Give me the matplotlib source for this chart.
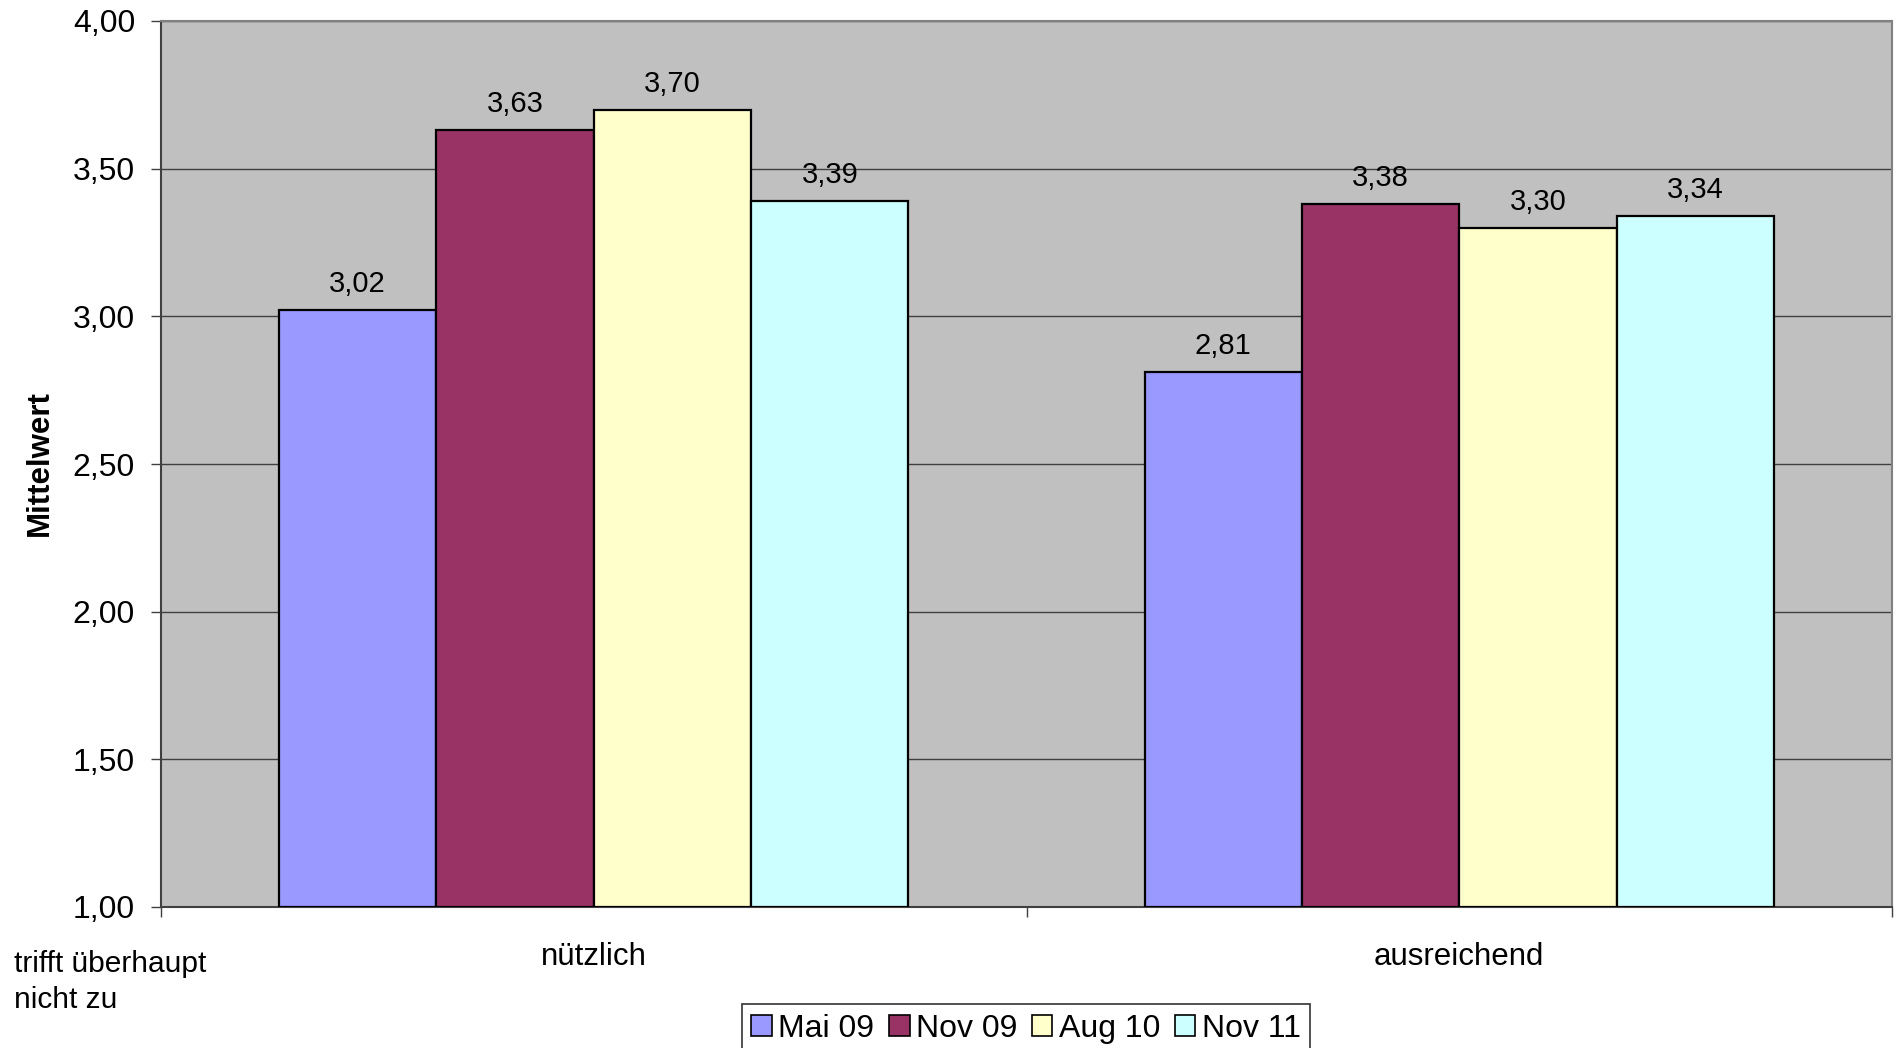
import matplotlib
matplotlib.use("Agg")
import matplotlib.pyplot as plt
import numpy as np
from matplotlib.patches import Patch

plt.rcParams['font.family'] = ['Liberation Sans', 'DejaVu Sans']

categories = ["nützlich", "ausreichend"]
series_names = ["Mai 09", "Nov 09", "Aug 10", "Nov 11"]
values = {
    "Mai 09": [3.02, 2.81],
    "Nov 09": [3.63, 3.38],
    "Aug 10": [3.70, 3.30],
    "Nov 11": [3.39, 3.34],
}
colors = ["#9999FF", "#993366", "#FFFFCC", "#CCFFFF"]
y_ticks = [1.00, 1.50, 2.00, 2.50, 3.00, 3.50, 4.00]

dpi = 100
fig = plt.figure(figsize=(18.96, 10.48), dpi=dpi)
W, H = 1896, 1048
left, right, top, bottom = 161, 1892, 21, 907
ax = fig.add_axes([left / W, 1 - bottom / H, (right - left) / W, (bottom - top) / H])
ax.set_facecolor("#C0C0C0")

px = 72 / dpi  # one pixel in points

n = len(series_names)
bw = 1 / 5.5
x = np.arange(len(categories))
base = 1.0
for i, name in enumerate(series_names):
    offs = (i - (n - 1) / 2) * bw
    vals = np.array(values[name])
    ax.bar(x + offs, vals - base, bottom=base, width=bw, color=colors[i],
           edgecolor="black", linewidth=1.6, zorder=3)
    for xi, v in zip(x + offs, vals):
        ax.annotate(f"{v:.2f}".replace(".", ","), (xi, v), xytext=(0, 18 * px),
                    textcoords="offset points", ha="center", va="baseline",
                    fontsize=21, zorder=4)

ax.set_xlim(-0.5, 1.5)
ax.set_ylim(1.0, 4.0)
ax.set_yticks(y_ticks)
ax.set_yticklabels([f"{t:.2f}".replace(".", ",") for t in y_ticks], fontsize=23)
ax.yaxis.grid(True, color="#404040", linewidth=1.0, zorder=1)
ax.set_axisbelow(True)

ax.set_xticks([-0.5, 0.5, 1.5])
ax.set_xticklabels([])
ax.tick_params(axis="x", direction="out", length=10 * px, width=1, color="#404040")
ax.tick_params(axis="y", direction="out", length=10 * px, width=1, color="#404040",
               pad=16 * px)
for xi, c in zip(x, categories):
    ax.annotate(c, (xi, 0), xycoords=("data", "axes fraction"),
                xytext=(0, -58 * px), textcoords="offset points",
                ha="center", va="baseline", fontsize=22.5)

for s in ["top", "right"]:
    ax.spines[s].set_color("#808080")
    ax.spines[s].set_linewidth(1.5)
for s in ["left", "bottom"]:
    ax.spines[s].set_color("#404040")
    ax.spines[s].set_linewidth(1.5)

fig.text(40 / W, 1 - 463 / H, "Mittelwert", rotation=90, ha="center",
         va="center", fontsize=22.5, fontweight="bold")
fig.text(14 / W, 1 - 972 / H, "trifft überhaupt", ha="left",
         va="baseline", fontsize=21.5)
fig.text(14 / W, 1 - 1008 / H, "nicht zu", ha="left",
         va="baseline", fontsize=21.5)

handles = [Patch(facecolor=c, edgecolor="black", linewidth=1.2) for c in colors]
leg = fig.legend(handles, series_names, loc="upper center",
                 bbox_to_anchor=(1026 / W, 1 - 1004 / H),
                 ncol=4, fontsize=23, frameon=True, fancybox=False,
                 handlelength=0.65, handleheight=0.65, handletextpad=0.2,
                 columnspacing=0.45, borderpad=0.3, borderaxespad=0)
leg.get_frame().set_edgecolor("black")
leg.get_frame().set_linewidth(1.2)

fig.savefig("out.png", dpi=dpi)
